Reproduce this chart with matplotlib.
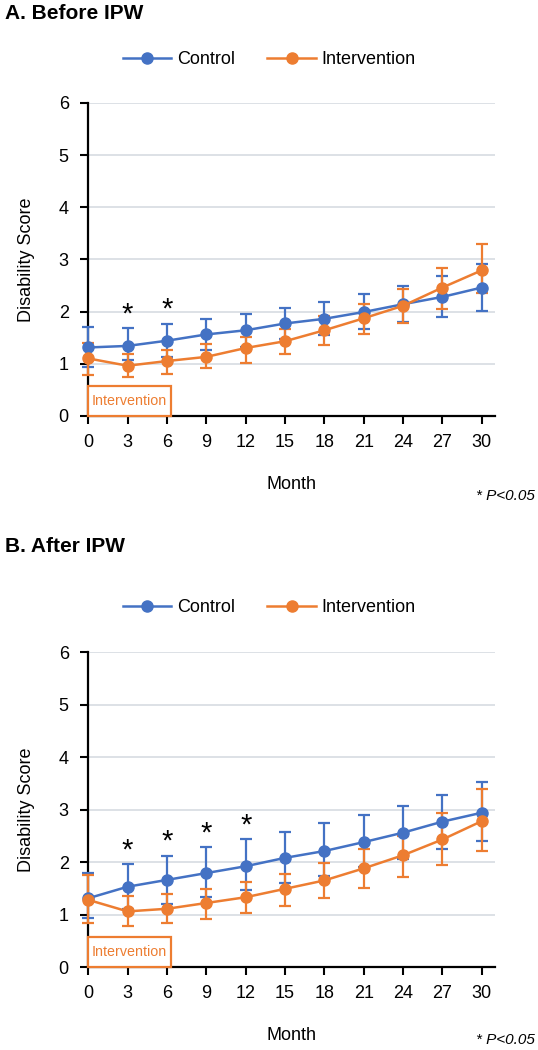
import numpy as np
import matplotlib
matplotlib.use("Agg")
import matplotlib.pyplot as plt
from matplotlib.patches import Rectangle
from matplotlib.lines import Line2D

plt.rcParams['font.family'] = ['Liberation Sans', 'DejaVu Sans']

months = [0, 3, 6, 9, 12, 15, 18, 21, 24, 27, 30]

# Panel A - before IPW
ctrl_a = [1.31, 1.34, 1.44, 1.56, 1.64, 1.77, 1.86, 1.99, 2.14, 2.28, 2.46]
ctrl_a_lo = [0.94, 1.07, 1.13, 1.26, 1.32, 1.48, 1.54, 1.66, 1.80, 1.90, 2.01]
ctrl_a_hi = [1.71, 1.68, 1.76, 1.86, 1.96, 2.07, 2.19, 2.34, 2.49, 2.68, 2.91]
intv_a = [1.10, 0.96, 1.05, 1.13, 1.30, 1.43, 1.64, 1.87, 2.11, 2.46, 2.79]
intv_a_lo = [0.78, 0.75, 0.81, 0.91, 1.02, 1.18, 1.36, 1.56, 1.78, 2.05, 2.35]
intv_a_hi = [1.39, 1.18, 1.27, 1.37, 1.52, 1.66, 1.91, 2.14, 2.44, 2.83, 3.29]
sig_a = [3, 6]

# Panel B - after IPW
ctrl_b = [1.31, 1.53, 1.66, 1.79, 1.92, 2.08, 2.21, 2.38, 2.56, 2.77, 2.94]
ctrl_b_lo = [0.94, 1.10, 1.20, 1.33, 1.46, 1.60, 1.74, 1.90, 2.06, 2.25, 2.41]
ctrl_b_hi = [1.79, 1.96, 2.12, 2.28, 2.43, 2.58, 2.74, 2.90, 3.06, 3.28, 3.52]
intv_b = [1.28, 1.06, 1.11, 1.22, 1.33, 1.49, 1.65, 1.88, 2.13, 2.43, 2.78]
intv_b_lo = [0.84, 0.78, 0.84, 0.92, 1.03, 1.16, 1.31, 1.50, 1.71, 1.94, 2.22]
intv_b_hi = [1.76, 1.35, 1.39, 1.49, 1.62, 1.78, 1.99, 2.25, 2.49, 2.93, 3.39]
sig_b = [3, 6, 9, 12]

blue = '#4472C4'
orange = '#ED7D31'

fig = plt.figure(figsize=(5.38, 10.5), dpi=100)


def draw_panel(rect, title, title_y, legend_y, ctrl, clo, chi, intv, ilo, ihi, sig):
    ax = fig.add_axes(rect)
    x = np.array(months)
    for y, lo, hi, col in [(ctrl, clo, chi, blue), (intv, ilo, ihi, orange)]:
        y = np.array(y)
        yerr = [y - np.array(lo), np.array(hi) - y]
        ax.errorbar(x, y, yerr=yerr, color=col, marker='o', markersize=8,
                    linewidth=1.8, elinewidth=1.6, capsize=4, capthick=1.6,
                    clip_on=False, zorder=3)
    for m in sig:
        i = months.index(m)
        ax.text(m, chi[i], '*', ha='center', va='bottom', fontsize=21)

    ax.add_patch(Rectangle((0, 0), 6.3, 0.58, facecolor='white', edgecolor=orange,
                           linewidth=1.6, zorder=4, clip_on=False))
    ax.text(3.15, 0.28, 'Intervention', color=orange, ha='center', va='center',
            fontsize=10.3, zorder=5)

    ax.set_xlim(0, 31)
    ax.set_ylim(0, 6)
    ax.set_xticks(months)
    ax.set_yticks(range(7))
    ax.grid(axis='y', color='#DDE1E6', linewidth=1.4)
    ax.set_axisbelow(True)
    for s in ['top', 'right']:
        ax.spines[s].set_visible(False)
    ax.spines['left'].set_linewidth(1.6)
    ax.spines['bottom'].set_linewidth(1.6)
    ax.tick_params(axis='both', direction='out', length=6, width=1.5, labelsize=13)
    ax.tick_params(axis='y', pad=8)
    ax.tick_params(axis='x', pad=7)
    ax.set_xlabel('Month', fontsize=13, labelpad=18)
    ax.set_ylabel('Disability Score', fontsize=13, labelpad=17)

    fig.text(0.01, title_y, title, fontsize=15, fontweight='bold', va='center')
    handles = [Line2D([], [], color=blue, marker='o', markersize=8, linewidth=1.8),
               Line2D([], [], color=orange, marker='o', markersize=8, linewidth=1.8)]
    ax.legend(handles, ['Control', 'Intervention'], loc='center',
              bbox_to_anchor=(0.5, legend_y), ncol=2, frameon=False,
              fontsize=13, handlelength=2.7, columnspacing=1.8, handletextpad=0.3,
              bbox_transform=fig.transFigure)
    return ax


ax_a = draw_panel([0.164, 0.604, 0.756, 0.298], 'A. Before IPW', 0.987, 0.943,
                  ctrl_a, ctrl_a_lo, ctrl_a_hi, intv_a, intv_a_lo, intv_a_hi, sig_a)
ax_b = draw_panel([0.164, 0.079, 0.756, 0.300], 'B. After IPW', 0.480, 0.421,
                  ctrl_b, ctrl_b_lo, ctrl_b_hi, intv_b, intv_b_lo, intv_b_hi, sig_b)

fig.text(0.995, 0.528, '* P<0.05', fontsize=11, style='italic', ha='right', va='center')
fig.text(0.995, 0.010, '* P<0.05', fontsize=11, style='italic', ha='right', va='center')

fig.savefig('out.png', dpi=100)
